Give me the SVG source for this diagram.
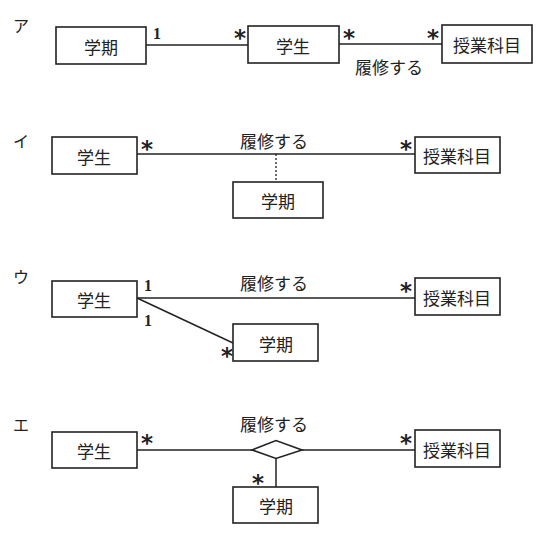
<svg xmlns="http://www.w3.org/2000/svg" width="556" height="533" viewBox="0 0 556 533">
<style>
.box{fill:#fff;stroke:#222;stroke-width:1.6}
.ln{fill:none;stroke:#222;stroke-width:1.5}
.dot{fill:none;stroke:#222;stroke-width:1.3;stroke-dasharray:2 2}
.t{font-family:"Noto Sans CJK JP","Noto Sans CJK SC",sans-serif;font-size:17px;fill:#222;text-anchor:middle;dominant-baseline:central}
.lab{font-family:"Noto Sans CJK JP",sans-serif;font-size:16px;fill:#222;text-anchor:middle;dominant-baseline:central}
.m{font-family:"Liberation Serif",serif;font-size:16px;font-weight:bold;fill:#222;text-anchor:middle;dominant-baseline:central}
.s{font-family:"DejaVu Sans",sans-serif;font-size:23px;font-weight:bold;fill:#222;text-anchor:middle}
</style>
<rect width="556" height="533" fill="#fff"/>
<!-- labels -->
<text class="lab" x="21" y="25">ア</text>
<text class="lab" x="21" y="140">イ</text>
<text class="lab" x="21" y="276">ウ</text>
<text class="lab" x="21" y="424">エ</text>

<!-- connectors -->
<g id="connectors">
<line class="ln" x1="146" y1="45" x2="248" y2="45"/>
<line class="ln" x1="339" y1="44" x2="442" y2="44"/>
<line class="ln" x1="137" y1="154" x2="415" y2="154"/>
<line class="dot" x1="276" y1="154" x2="276" y2="182"/>
<line class="ln" x1="137" y1="298" x2="415" y2="298"/>
<line class="ln" x1="137" y1="298" x2="233" y2="343"/>
<line class="ln" x1="137" y1="450" x2="252" y2="450"/>
<line class="ln" x1="302" y1="450" x2="415" y2="450"/>
<line class="ln" x1="276" y1="458" x2="276" y2="487"/>
<polygon class="box" points="252,450 276,440.5 302,450 276,458.5"/>
<text class="m" x="157" y="33">1</text>
<text class="s" x="240" y="46">*</text>
<text class="s" x="349" y="46">*</text>
<text class="s" x="433" y="46">*</text>
<text class="t" x="389" y="66">履修する</text>
<text class="s" x="147" y="157">*</text>
<text class="s" x="406" y="157">*</text>
<text class="t" x="274" y="140">履修する</text>
<text class="m" x="148" y="285">1</text>
<text class="m" x="148" y="320">1</text>
<text class="s" x="406" y="299">*</text>
<text class="s" x="227" y="364">*</text>
<text class="t" x="274" y="282">履修する</text>
<text class="s" x="147" y="451">*</text>
<text class="s" x="406" y="451">*</text>
<text class="s" x="258" y="491">*</text>
<text class="t" x="274" y="423">履修する</text>
</g>

<g id="a-gakki"><rect class="box" x="56" y="27" width="90" height="37"/><text class="t" x="101" y="46">学期</text></g>
<g id="a-gakusei"><rect class="box" x="248" y="26" width="91" height="37"/><text class="t" x="293" y="45">学生</text></g>
<g id="a-kamoku"><rect class="box" x="442" y="25" width="90" height="38"/><text class="t" x="487" y="44">授業科目</text></g>

<g id="i-gakusei"><rect class="box" x="52" y="137" width="85" height="37"/><text class="t" x="94" y="156">学生</text></g>
<g id="i-kamoku"><rect class="box" x="415" y="137" width="85" height="36"/><text class="t" x="457" y="155">授業科目</text></g>
<g id="i-gakki"><rect class="box" x="233" y="182" width="90" height="36"/><text class="t" x="278" y="200">学期</text></g>

<g id="u-gakusei"><rect class="box" x="52" y="281" width="85" height="36"/><text class="t" x="94" y="299">学生</text></g>
<g id="u-kamoku"><rect class="box" x="415" y="278" width="85" height="37"/><text class="t" x="457" y="297">授業科目</text></g>
<g id="u-gakki"><rect class="box" x="233" y="324" width="85" height="37"/><text class="t" x="276" y="343">学期</text></g>

<g id="e-gakusei"><rect class="box" x="52" y="432" width="85" height="36"/><text class="t" x="94" y="450">学生</text></g>
<g id="e-kamoku"><rect class="box" x="415" y="430" width="85" height="37"/><text class="t" x="457" y="449">授業科目</text></g>
<g id="e-gakki"><rect class="box" x="233" y="487" width="85" height="36"/><text class="t" x="276" y="505">学期</text></g>
</svg>
